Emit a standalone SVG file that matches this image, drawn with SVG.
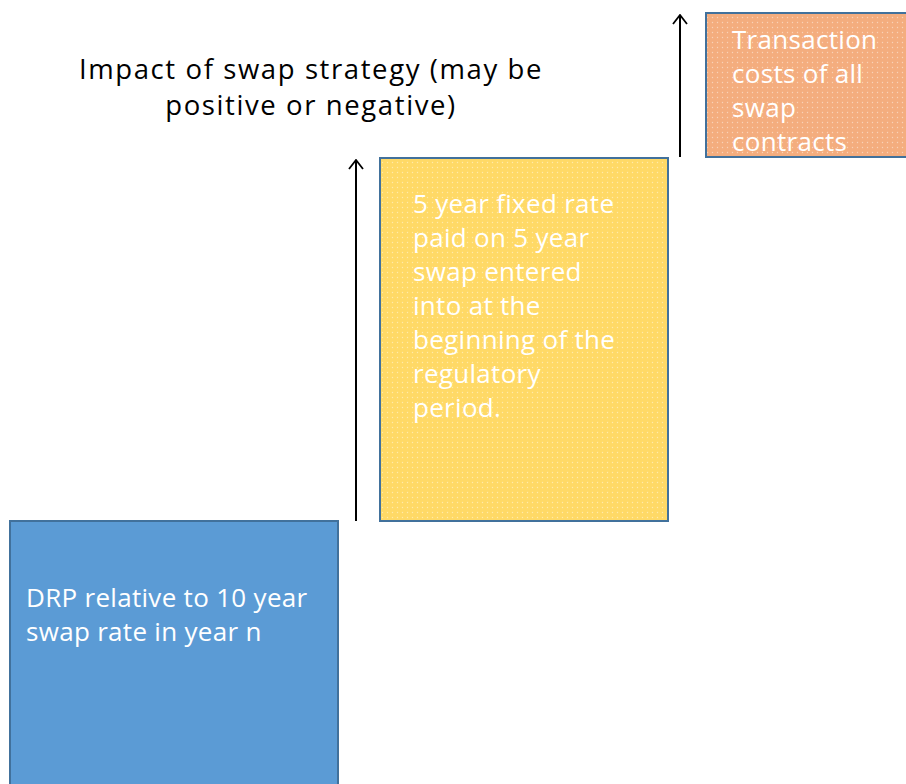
<svg xmlns="http://www.w3.org/2000/svg" width="906" height="784" viewBox="0 0 906 784">
<style>
.lbl{font-family:"Open Sans","Liberation Sans",sans-serif;fill:#ffffff;font-size:26px;letter-spacing:0.3px}
.title{font-family:"Open Sans","Liberation Sans",sans-serif;fill:#000000;font-size:27.5px;letter-spacing:1.6px;text-anchor:middle}
.box{stroke:#41719C;stroke-width:2}
.conn{stroke:#000000;stroke-width:2;fill:none}
</style>
<defs>
<pattern id="dots" width="5" height="5" patternUnits="userSpaceOnUse">
<circle cx="2.5" cy="2.5" r="0.7" fill="#ffffff" fill-opacity="0.45"/>
</pattern>
<marker id="open" viewBox="0 0 12 16" refX="11" refY="8" markerWidth="12" markerHeight="16" markerUnits="userSpaceOnUse" orient="auto">
<path d="M2,1 L11,8 L2,15" fill="none" stroke="#000" stroke-width="1.8"/>
</marker>
</defs>
<rect width="906" height="784" fill="#ffffff"/>
<g id="title">
<text class="title" x="311" y="79">Impact of swap strategy (may be</text>
<text class="title" x="311" y="115">positive or negative)</text>
</g>
<g id="drp">
<rect class="box" x="10" y="521" width="328" height="270" fill="#5B9BD5"/>
<text class="lbl" x="26" y="607">DRP relative to 10 year</text>
<text class="lbl" x="26" y="641">swap rate in year n</text>
</g>
<g id="fixed">
<rect class="box" x="380" y="158" width="288" height="363" fill="#FFD966"/>
<rect x="381" y="159" width="286" height="361" fill="url(#dots)"/>
<text class="lbl" x="413" y="213">5 year fixed rate</text>
<text class="lbl" x="413" y="247">paid on 5 year</text>
<text class="lbl" x="413" y="281">swap entered</text>
<text class="lbl" x="413" y="315">into at the</text>
<text class="lbl" x="413" y="349">beginning of the</text>
<text class="lbl" x="413" y="383">regulatory</text>
<text class="lbl" x="413" y="417">period.</text>
</g>
<g id="costs">
<rect class="box" x="706" y="13" width="210" height="144" fill="#F4AD7E"/>
<rect x="707" y="14" width="199" height="142" fill="url(#dots)"/>
<text class="lbl" x="732" y="49">Transaction</text>
<text class="lbl" x="732" y="83">costs of all</text>
<text class="lbl" x="732" y="117">swap</text>
<text class="lbl" x="732" y="151">contracts</text>
</g>
<g id="connectors">
<line class="conn" x1="356" y1="521" x2="356" y2="160" marker-end="url(#open)"/>
<line class="conn" x1="680" y1="157" x2="680" y2="15" marker-end="url(#open)"/>
</g>
</svg>
